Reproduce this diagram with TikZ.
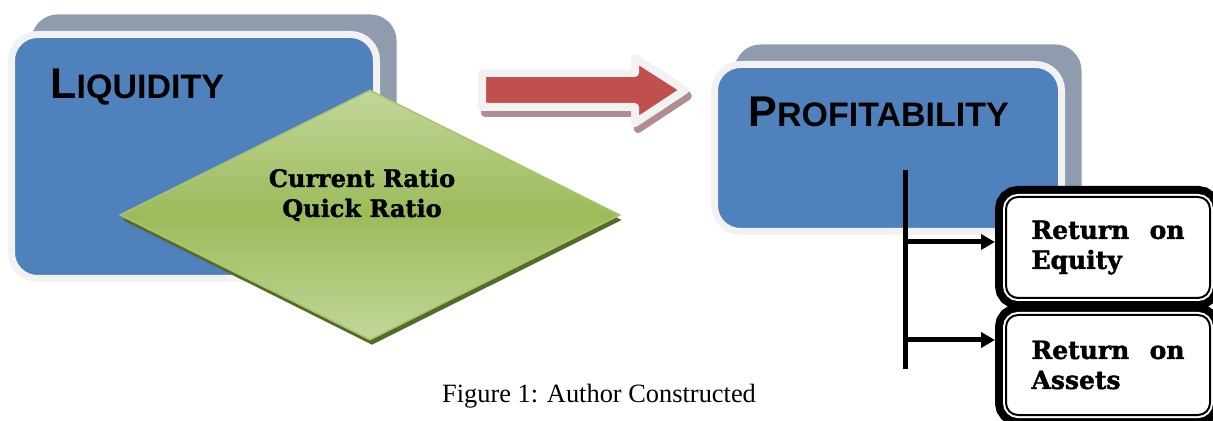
\documentclass[tikz,border=0pt]{standalone}
\usepackage{fontspec}
\setmainfont{Liberation Serif}
\newfontfamily\headfont{Liberation Sans}
\newfontfamily\ratiofont[FakeBold=1.6]{DejaVu Serif Bold}
\usetikzlibrary{shapes.geometric,shadows,arrows.meta,calc}
\definecolor{boxblue}{HTML}{4F81BD}
\definecolor{rimwhite}{HTML}{F2F2F2}
\definecolor{backgray}{HTML}{8F9CAD}
\definecolor{greenmid}{HTML}{9BBB59}
\definecolor{greenlight}{HTML}{C3D69B}
\definecolor{greenedge}{HTML}{A8C56C}
\definecolor{greendark}{HTML}{546B2B}
\definecolor{flowred}{HTML}{C0504D}
\definecolor{flowshadow}{HTML}{B08E8F}
\newcommand{\capword}[2]{{\fontsize{21.5pt}{22pt}\selectfont #1}{\fontsize{17pt}{18pt}\selectfont #2}}

\begin{document}
\begin{tikzpicture}[x=0.5pt, y=-0.5pt,
    mainbox/.style={rectangle, rounded corners=13pt, fill=boxblue, draw=rimwhite,
        line width=3.5pt, inner sep=0pt,
        general shadow={fill=backgray, shadow xshift=10pt, shadow yshift=10pt}},
    headtext/.style={anchor=base west, inner sep=0pt, font=\headfont\bfseries},
    flowarrow/.style={fill=flowred, draw=rimwhite, line width=4pt, line join=round},
    flowshade/.style={fill=flowshadow, draw=flowshadow, line width=4pt, line join=round,
        shift={(3,6)}},
    ratiodiamond/.style={diamond, aspect=2, minimum width=250pt, minimum height=125pt,
        inner sep=0pt, draw=greenedge, line width=0.8pt,
        top color=greenlight, bottom color=greenlight, middle color=greenmid,
        general shadow={fill=greendark, shadow xshift=1pt, shadow yshift=-2.5pt}},
    ratiotext/.style={align=center, inner sep=0pt,
        font=\ratiofont\fontsize{12pt}{15pt}\selectfont},
    retbox/.style={rectangle, rounded corners=6pt, minimum width=102pt,
        minimum height=50.5pt, inner sep=0pt, outer sep=5.5pt, fill=white,
        draw=black, line width=1pt, text width=76.5pt, align=left,
        font=\ratiofont\fontsize{12.5pt}{15pt}\selectfont,
        preaction={draw=black, line width=11pt},
        preaction={draw=white, line width=3pt}},
    busline/.style={line width=2.5pt},
    feed/.style={line width=2.5pt, -{Triangle[length=7pt, width=7.5pt]}}]

    \useasboundingbox (0,0) rectangle (1213,421);

    % the two measure boxes
    \node[mainbox, minimum width=182.5pt, minimum height=122pt] (liq) at (194,156.5) {};
    \node[mainbox, minimum width=173.5pt, minimum height=83.5pt] (prof) at (888,148) {};
    \node[headtext] (liqtxt) at (50,99) {\capword{L}{IQUIDITY}};
    \node[headtext] (proftxt) at (748,127) {\capword{P}{ROFITABILITY}};

    % block arrow between them
    \foreach \sty in {flowshade,flowarrow}{
        \draw[\sty] (482,73) -- (635,73) -- (635,58) -- (685,90) -- (635,123)
            -- (635,107) -- (482,107) -- cycle;
    }

    % liquidity ratios
    \node[ratiodiamond] (ratios) at (370,215) {};
    \node[ratiotext] (ratiotxt) at (362,195) {Current Ratio\\Quick Ratio};

    % profitability ratios
    \node[retbox] (roe) at (1108,247.5) {Return\hfill on\\Equity};
    \node[retbox, minimum height=50pt] (roa) at (1108,365) {Return\hfill on\\Assets};

    \coordinate (busT) at (905,170);
    \coordinate (busB) at (905,369);
    \coordinate (b1) at (905,242);
    \coordinate (b2) at (905,340);
    \draw[busline] (busT) -- (busB);
    \draw[feed] (b1) -- (b1 -| roe.west);
    \draw[feed] (b2) -- (b2 -| roa.west);

    \node[font=\fontsize{13.2pt}{15pt}\selectfont] (caption) at (599,396)
        {Figure 1: Author Constructed};
\end{tikzpicture}
\end{document}
